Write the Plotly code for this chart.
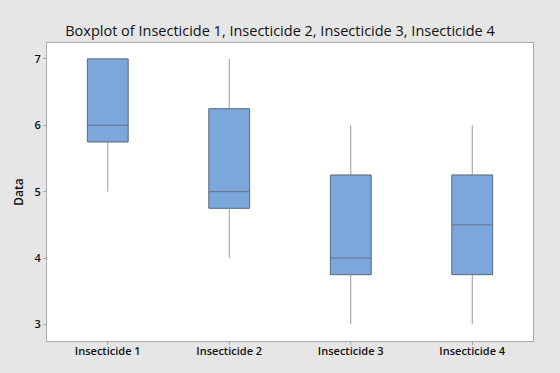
import plotly.graph_objects as go

categories = ["Insecticide 1", "Insecticide 2", "Insecticide 3", "Insecticide 4"]
lower = [5, 4, 3, 3]
q1 = [5.75, 4.75, 3.75, 3.75]
median = [6, 5, 4, 4.5]
q3 = [7, 6.25, 5.25, 5.25]
upper = [7, 7, 6, 6]
y_ticks = [3, 4, 5, 6, 7]

fill = "#7BA7DB"
fig = go.Figure()
# whiskers (light gray)
fig.add_trace(go.Box(
    x=categories, q1=q1, median=median, q3=q3,
    lowerfence=lower, upperfence=upper,
    fillcolor=fill, line=dict(color="#9a9a9a", width=1),
    width=0.335, whiskerwidth=0, hoverinfo="skip", showlegend=False,
))
# box body with darker outline
fig.add_trace(go.Box(
    x=categories, q1=q1, median=median, q3=q3,
    lowerfence=q1, upperfence=q3,
    fillcolor=fill, line=dict(color="#62738a", width=1),
    width=0.335, whiskerwidth=0, showlegend=False,
))

fig.update_layout(
    width=560, height=373,
    margin=dict(l=47, r=27, t=43, b=32),
    paper_bgcolor="#E6E6E6", plot_bgcolor="white",
    boxmode="overlay",
    title=dict(text="Boxplot of Insecticide 1, Insecticide 2, Insecticide 3, Insecticide 4",
               x=0.5, xanchor="center", y=0.917, yanchor="middle",
               font=dict(family="Open Sans", size=14.5, color="#111")),
    font=dict(family="Open Sans", color="#111"),
)
fig.update_xaxes(
    type="category", range=[-0.5, 3.5], showgrid=False, zeroline=False,
    showline=True, linecolor="#aaaaaa", linewidth=1, mirror=True,
    ticks="outside", ticklen=3, tickcolor="#aaaaaa", ticklabelstandoff=-3,
    tickfont=dict(family="Open Sans", size=11, weight=600, color="#111"),
)
fig.update_yaxes(
    range=[2.75, 7.24], tickvals=y_ticks, showgrid=False, zeroline=False,
    showline=True, linecolor="#aaaaaa", linewidth=1, mirror=True,
    ticks="outside", ticklen=3, tickcolor="#aaaaaa",
    tickfont=dict(family="Open Sans", size=11, weight=600, color="#111"),
    title=dict(text="Data", standoff=8,
               font=dict(family="Open Sans", size=12, weight=600, color="#111")),
)
fig.write_html("out.html")
